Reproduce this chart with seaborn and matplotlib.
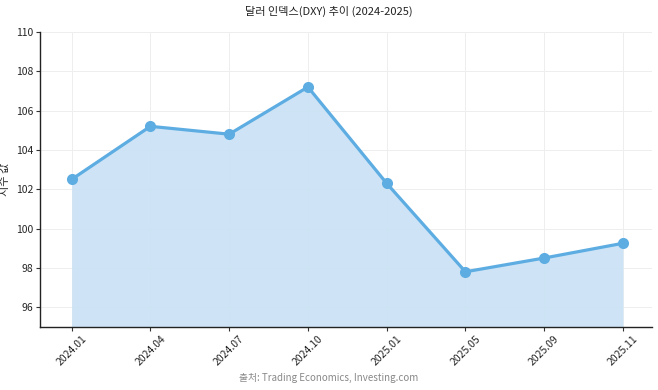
import matplotlib
matplotlib.use("Agg")
import matplotlib.pyplot as plt
import seaborn as sns
import pandas as pd

# DXY values
months = ["2024.01", "2024.04", "2024.07", "2024.10", "2025.01", "2025.05", "2025.09", "2025.11"]
dxy = [102.5, 105.2, 104.8, 107.2, 102.3, 97.8, 98.5, 99.25]
y_ticks = [96, 98, 100, 102, 104, 106, 108, 110]

sns.set_theme(style="whitegrid")
plt.rcParams['font.family'] = ['Noto Sans CJK KR', 'DejaVu Sans']

LINE = '#5DADE2'
FILL = '#C9E2F5'

df = pd.DataFrame({'month': months, 'value': dxy})
df['pos'] = range(len(df))

fig = plt.figure(figsize=(6.58, 3.9), dpi=100)
ax = fig.add_axes([0.061, 0.162, 0.93, 0.756])

ax.fill_between(df['pos'], df['value'], 95, color=FILL, alpha=0.9, zorder=1, linewidth=0)
sns.lineplot(data=df, x='pos', y='value', ax=ax, color=LINE, linewidth=2.3,
             marker='o', markersize=8, markeredgewidth=0, zorder=3)

ax.set_xlim(-0.4, 7.37)
ax.set_ylim(95, 110)
ax.set_yticks(y_ticks)
ax.set_xticks(df['pos'])
ax.set_xticklabels(months, rotation=45, fontsize=7.5)
ax.tick_params(axis='y', labelsize=7.5)
ax.tick_params(axis='both', which='both', direction='out', length=3, width=0.8,
               color='#333333', bottom=True, left=True, pad=2)
ax.set_xlabel('')
ax.set_ylabel('지수 값', fontsize=8)
ax.yaxis.set_label_coords(-0.05, 0.5)

ax.grid(True, color='#EEEEEE', linewidth=0.7)
for side in ['top', 'right']:
    ax.spines[side].set_visible(False)
for side in ['left', 'bottom']:
    ax.spines[side].set_color('#222222')
    ax.spines[side].set_linewidth(1.0)
ax.set_facecolor('white')

fig.text(0.5, 0.97, '달러 인덱스(DXY) 추이 (2024-2025)', ha='center', va='center',
         fontsize=8, color='#222222')
fig.text(0.5, 0.03, '출처: Trading Economics, Investing.com', ha='center', va='center',
         fontsize=7, color='#888888')

fig.savefig('out.png', dpi=100)
